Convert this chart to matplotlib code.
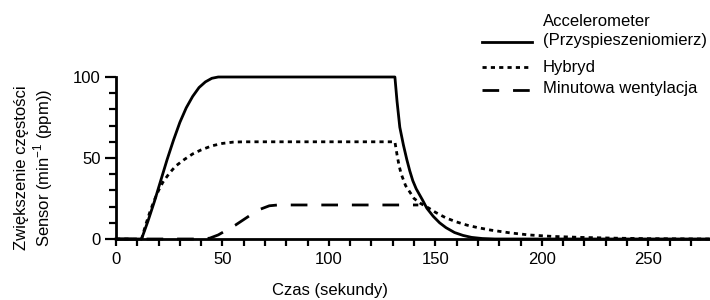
import matplotlib
matplotlib.use('Agg')
import matplotlib.pyplot as plt
from matplotlib.lines import Line2D
from matplotlib.ticker import MultipleLocator

plt.rcParams['font.family'] = ['Liberation Sans', 'DejaVu Sans']
plt.rcParams['mathtext.fontset'] = 'custom'
plt.rcParams['mathtext.rm'] = 'Liberation Sans'

# Accelerometer (solid)
acc_x = [0, 12, 15, 18, 21, 24, 27, 30, 33, 36, 39, 42, 45, 48, 131, 132, 133.3, 135,
         136.6, 138, 139.4, 141, 144, 146, 149, 152, 155, 159, 163, 167, 172, 178, 279]
acc_y = [0, 0, 11, 23, 36, 49, 61, 72, 81, 88, 93.5, 97, 99.2, 100, 100, 85, 69, 58,
         49, 42, 36, 31, 24, 19, 14, 10, 7, 4, 2.2, 1, 0.3, 0, 0]

# Hybryd (dotted)
hyb_x = [0, 12, 14, 16, 18, 20, 22, 25, 28, 32, 36, 40, 45, 50, 55, 60, 131, 132, 133,
         134, 136, 138, 140, 143, 147, 150, 155, 160, 165, 170, 176, 185, 194, 205, 218,
         235, 250, 279]
hyb_y = [0, 0, 9, 17, 24, 30, 35, 40.5, 45, 49, 52.5, 55, 57.5, 59, 59.8, 60, 60, 52, 45,
         40, 33, 29, 25, 22, 19, 16.5, 13, 10.5, 8.5, 7, 5.5, 3.8, 2.5, 1.6, 1,
         0.5, 0.2, 0]

# Minutowa wentylacja (dashed)
min_x = [0, 40, 44, 48, 52, 56, 60, 64, 68, 72, 76, 142]
min_y = [0, 0, 0.5, 2.5, 5.5, 8.5, 12, 15.5, 18.5, 20.5, 21, 21]

labels = ['Accelerometer\n(Przyspieszeniomierz)', 'Hybryd', 'Minutowa wentylacja']

fs = 12
fig = plt.figure(figsize=(7.1, 3.0), dpi=100)
ax = fig.add_axes([116 / 710, 1 - 239 / 300, 1 - 116 / 710, (239 - 77) / 300])

lw = 2.0
ax.plot(acc_x, acc_y, color='black', lw=lw, clip_on=False)
ax.plot(hyb_x, hyb_y, color='black', lw=lw, linestyle=(0, (1.5, 1.5)), clip_on=False)
ax.plot(min_x, min_y, color='black', lw=lw, linestyle=(0, (6, 5)), clip_on=False)

ax.set_xlim(0, 279)
ax.set_ylim(0, 100)
for s in ['top', 'right']:
    ax.spines[s].set_visible(False)
for s in ['left', 'bottom']:
    ax.spines[s].set_linewidth(2.0)

ax.xaxis.set_major_locator(MultipleLocator(50))
ax.xaxis.set_minor_locator(MultipleLocator(10))
ax.yaxis.set_major_locator(MultipleLocator(50))
ax.yaxis.set_minor_locator(MultipleLocator(10))
ax.tick_params(axis='x', which='both', length=5, width=1.6, direction='out', labelsize=fs, pad=4)
ax.tick_params(axis='y', which='major', length=8, width=1.6, direction='out', labelsize=fs, pad=3)
ax.tick_params(axis='y', which='minor', length=5, width=1.6, direction='out')

ax.set_xlabel('Czas (sekundy)', fontsize=fs)
ax.xaxis.set_label_coords((330 - 116) / (710 - 116), -0.27)
fig.text(22 / 710, 1 - 168 / 300, 'Zwiększenie częstości', rotation=90,
         ha='center', va='center', fontsize=fs)
fig.text(43 / 710, 1 - 168 / 300, 'Sensor (min$^{\\mathrm{-1}}$ (ppm))', rotation=90,
         ha='center', va='center', fontsize=fs)

# legend drawn by hand so the solid handle sits on the second label line
styles = ['-', (0, (1.5, 1.5)), (0, (6, 5))]
handle_y = [42, 67, 90]
for st, hy in zip(styles, handle_y):
    fig.add_artist(Line2D([482 / 710, 532 / 710], [1 - hy / 300] * 2, color='black',
                          lw=lw, linestyle=st, transform=fig.transFigure))
fig.text(543 / 710, 1 - 31 / 300, labels[0], ha='left', va='center', fontsize=fs,
         linespacing=1.25)
fig.text(543 / 710, 1 - 67 / 300, labels[1], ha='left', va='center', fontsize=fs)
fig.text(543 / 710, 1 - 89 / 300, labels[2], ha='left', va='center', fontsize=fs)

fig.savefig('out.png', dpi=100)
